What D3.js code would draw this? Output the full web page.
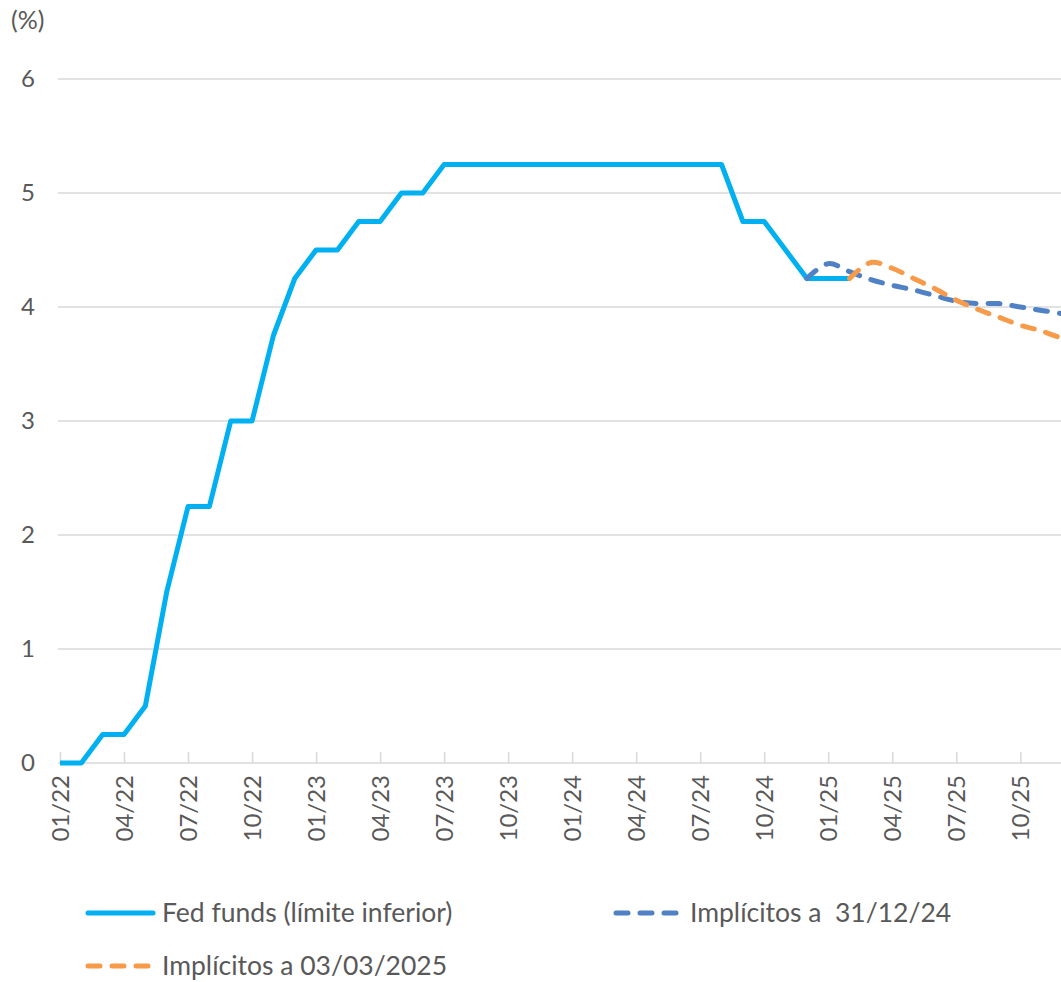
<!DOCTYPE html>
<html>
<head>
<meta charset="utf-8">
<script src="https://cdn.jsdelivr.net/npm/d3@7"></script>
<style>
  body { margin: 0; background: #fff; }
  text { font-family: Lato, "Open Sans", sans-serif; fill: #595959; }
</style>
</head>
<body>
<script>
// meses (categorías del eje x)
const months = [
  "01/22","02/22","03/22","04/22","05/22","06/22","07/22","08/22","09/22","10/22","11/22","12/22",
  "01/23","02/23","03/23","04/23","05/23","06/23","07/23","08/23","09/23","10/23","11/23","12/23",
  "01/24","02/24","03/24","04/24","05/24","06/24","07/24","08/24","09/24","10/24","11/24","12/24",
  "01/25","02/25","03/25","04/25","05/25","06/25","07/25","08/25","09/25","10/25","11/25","12/25"
];
const tickLabels = ["01/22","04/22","07/22","10/22","01/23","04/23","07/23","10/23",
  "01/24","04/24","07/24","10/24","01/25","04/25","07/25","10/25"];

// Fed funds (límite inferior), 01/22 - 02/25
const fedFunds = [0, 0, 0.25, 0.25, 0.5, 1.5, 2.25, 2.25, 3, 3, 3.75, 4.25,
  4.5, 4.5, 4.75, 4.75, 5, 5, 5.25, 5.25, 5.25, 5.25, 5.25, 5.25,
  5.25, 5.25, 5.25, 5.25, 5.25, 5.25, 5.25, 5.25, 4.75, 4.75, 4.5, 4.25,
  4.25, 4.25];

// Implícitos a 31/12/24, 12/24 - 12/25
const impDecMonths = ["12/24","01/25","02/25","03/25","04/25","05/25","06/25","07/25","08/25","09/25","10/25","11/25","12/25"];
const impDec = [4.25, 4.38, 4.31, 4.24, 4.19, 4.15, 4.10, 4.05, 4.03, 4.03, 4.00, 3.97, 3.94];

// Implícitos a 03/03/2025, 02/25 - 12/25
const impMarMonths = ["02/25","03/25","04/25","05/25","06/25","07/25","08/25","09/25","10/25","11/25","12/25"];
const impMar = [4.25, 4.39, 4.34, 4.25, 4.16, 4.06, 3.98, 3.91, 3.84, 3.79, 3.72];

const yTicks = [0, 1, 2, 3, 4, 5, 6];

const seriesNames = ["Fed funds (límite inferior)", "Implícitos a  31/12/24", "Implícitos a 03/03/2025"];
const colors = ["#00B0F0", "#4F81C4", "#F79A4A"];

function draw() {
  const W = 1061, H = 982;
  const svg = d3.select("body").append("svg")
    .attr("width", W).attr("height", H);

  const x = d3.scaleLinear()
    .domain([0, months.length - 1])
    .range([60, 1063]);
  const y = d3.scaleLinear()
    .domain([0, 6])
    .range([763, 79]);

  const idx = m => months.indexOf(m);
  const dash = "12 12";

  // líneas de cuadrícula
  svg.append("g")
    .selectAll("line")
    .data(yTicks)
    .join("line")
    .attr("x1", 58).attr("x2", W)
    .attr("y1", d => y(d)).attr("y2", d => y(d))
    .attr("stroke", "#d9d9d9").attr("stroke-width", 1.5);

  // eje y
  const yAxis = svg.append("g")
    .attr("transform", "translate(42,0)")
    .call(d3.axisLeft(y).tickValues(yTicks).tickSize(0).tickPadding(0).tickFormat(d3.format("d")));
  yAxis.select(".domain").remove();
  yAxis.selectAll("text").attr("font-size", 24).attr("text-anchor", "middle").attr("dx", "-14");

  svg.append("text")
    .attr("x", 11).attr("y", 29)
    .attr("font-size", 25)
    .text("(%)");

  // eje x
  const xAxis = svg.append("g")
    .attr("transform", "translate(0,763)")
    .call(d3.axisBottom(x)
      .tickValues(tickLabels.map(idx))
      .tickSize(-11)
      .tickFormat(i => months[i]));
  xAxis.select(".domain").remove();
  xAxis.selectAll(".tick line").attr("stroke", "#d9d9d9").attr("stroke-width", 1.5);
  xAxis.selectAll("text")
    .attr("font-size", 24)
    .attr("transform", "rotate(-90)")
    .attr("text-anchor", "end")
    .attr("x", -12)
    .attr("y", 0)
    .attr("dy", "0.36em");

  // series
  const fedLine = d3.line()
    .x((d, i) => x(i))
    .y(d => y(d));

  svg.append("path")
    .datum(fedFunds)
    .attr("d", fedLine)
    .attr("fill", "none")
    .attr("stroke", colors[0])
    .attr("stroke-width", 5)
    .attr("stroke-linejoin", "round");

  const smooth = (labels) => d3.line()
    .x((d, i) => x(idx(labels[i])))
    .y(d => y(d))
    .curve(d3.curveCatmullRom.alpha(0.5));

  svg.append("path")
    .datum(impDec)
    .attr("d", smooth(impDecMonths))
    .attr("fill", "none")
    .attr("stroke", colors[1])
    .attr("stroke-width", 5)
    .attr("stroke-linecap", "round")
    .attr("stroke-dasharray", dash);

  svg.append("path")
    .datum(impMar)
    .attr("d", smooth(impMarMonths))
    .attr("fill", "none")
    .attr("stroke", colors[2])
    .attr("stroke-width", 5)
    .attr("stroke-linecap", "round")
    .attr("stroke-dasharray", dash);

  // leyenda
  const legend = [
    { x: 86, y: 913, name: seriesNames[0], c: colors[0], dash: null },
    { x: 614, y: 913, name: seriesNames[1], c: colors[1], dash: dash },
    { x: 86, y: 966, name: seriesNames[2], c: colors[2], dash: dash }
  ];
  const lg = svg.append("g").selectAll("g").data(legend).join("g")
    .attr("transform", d => `translate(${d.x},${d.y})`);
  lg.append("line")
    .attr("x1", 2).attr("x2", d => d.dash ? 64 : 67)
    .attr("stroke", d => d.c)
    .attr("stroke-width", 5)
    .attr("stroke-linecap", "round")
    .attr("stroke-dasharray", d => d.dash);
  lg.append("text")
    .attr("x", 76).attr("dy", "0.34em")
    .attr("font-size", 26.5)
    .style("white-space", "pre")
    .attr("xml:space", "preserve")
    .text(d => d.name);
}

window.addEventListener("load", draw);
</script>
</body>
</html>
